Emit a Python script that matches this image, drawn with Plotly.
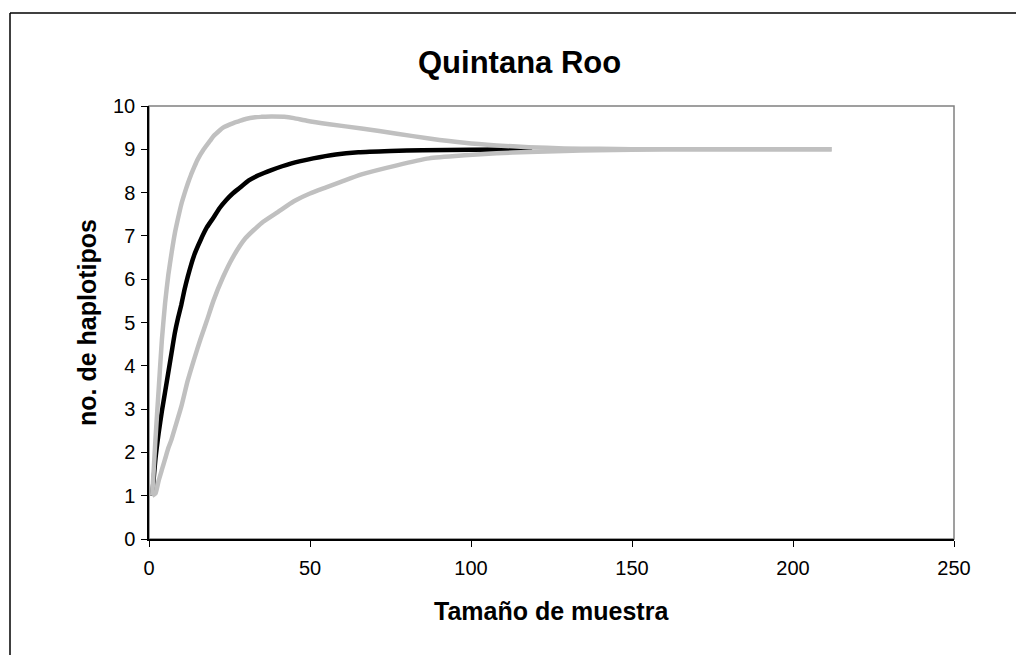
import plotly.graph_objects as go

# Mean rarefaction curve (black)
mean_x = [1, 2, 3, 4, 5, 6, 7, 8, 9, 10, 11, 12, 14, 16, 18, 20, 22, 24, 26, 28, 31, 34, 38, 44, 51, 58, 65, 75, 85, 100, 119]
mean_y = [1, 1.85, 2.45, 2.95, 3.4, 3.85, 4.3, 4.75, 5.1, 5.4, 5.75, 6.05, 6.55, 6.9, 7.2, 7.42, 7.65, 7.83, 7.98, 8.1, 8.28, 8.4, 8.52, 8.67, 8.79, 8.88, 8.93, 8.96, 8.98, 8.99, 9.0]

# Upper bound (gray)
upper_x = [1, 2, 3, 4, 5, 6, 7, 8, 9, 10, 11, 12, 13, 14, 15, 17, 19, 20, 22, 23, 26, 28, 30, 33, 35, 38, 42, 45, 49, 56, 66, 77, 87, 98, 108, 118, 129, 140, 150, 212]
upper_y = [1, 2.3, 3.45, 4.6, 5.45, 6.1, 6.6, 7.05, 7.4, 7.72, 7.97, 8.2, 8.4, 8.58, 8.75, 9.0, 9.2, 9.3, 9.44, 9.5, 9.6, 9.65, 9.7, 9.74, 9.75, 9.76, 9.75, 9.72, 9.66, 9.58, 9.48, 9.36, 9.25, 9.15, 9.09, 9.05, 9.02, 9.01, 9.0, 9.0]

# Lower bound (gray)
lower_x = [1, 2, 3, 4, 5, 6, 7, 8, 10, 12, 14, 16, 18, 20, 23, 26, 30, 35, 40, 45, 50, 55, 60, 66, 77, 87, 98, 108, 118, 129, 139, 150, 160, 212]
lower_y = [1, 1.05, 1.35, 1.6, 1.85, 2.1, 2.3, 2.55, 3.05, 3.65, 4.15, 4.62, 5.05, 5.5, 6.05, 6.5, 6.95, 7.3, 7.55, 7.8, 7.98, 8.12, 8.26, 8.42, 8.63, 8.79, 8.86, 8.91, 8.94, 8.96, 8.98, 8.99, 9.0, 9.0]

x_ticks = [0, 50, 100, 150, 200, 250]
y_ticks = [0, 1, 2, 3, 4, 5, 6, 7, 8, 9, 10]

FONT = "Liberation Sans, Arial, sans-serif"
GRAY = "#C0C0C0"

fig = go.Figure()
fig.add_trace(go.Scatter(x=mean_x, y=mean_y, mode="lines",
                         line=dict(color="black", width=4.5, shape="spline", smoothing=0.5),
                         showlegend=False))
fig.add_trace(go.Scatter(x=upper_x, y=upper_y, mode="lines",
                         line=dict(color=GRAY, width=4.5, shape="spline", smoothing=0.5),
                         showlegend=False))
fig.add_trace(go.Scatter(x=lower_x, y=lower_y, mode="lines",
                         line=dict(color=GRAY, width=4.5, shape="spline", smoothing=0.5),
                         showlegend=False))

L, R, T, B = 149, 954, 106, 539
W, H = 1016, 655

def px2paper_x(px):
    return (px - L) / (R - L)

def px2paper_y(py):
    return (B - py) / (B - T)

shapes = [
    dict(type="rect", xref="paper", yref="paper", x0=0, y0=0, x1=1, y1=1,
         line=dict(color="#808080", width=1.5), layer="below"),
    dict(type="line", xref="paper", yref="paper",
         x0=px2paper_x(10), y0=px2paper_y(13), x1=px2paper_x(1030), y1=px2paper_y(13),
         line=dict(color="black", width=1.5)),
    dict(type="line", xref="paper", yref="paper",
         x0=px2paper_x(10), y0=px2paper_y(13), x1=px2paper_x(10), y1=px2paper_y(670),
         line=dict(color="black", width=1.5)),
]

fig.update_layout(
    width=W, height=H, autosize=False,
    margin=dict(l=L, r=W - R, t=T, b=H - B, pad=0),
    paper_bgcolor="white", plot_bgcolor="white",
    font=dict(family=FONT, color="black", size=20),
    shapes=shapes,
    annotations=[
        dict(text="<b>Quintana Roo</b>", xref="paper", yref="paper",
             x=px2paper_x(519), y=px2paper_y(63), showarrow=False,
             xanchor="center", yanchor="middle", font=dict(size=31, family=FONT)),
        dict(text="<b>Tamaño de muestra</b>", xref="paper", yref="paper",
             x=px2paper_x(551), y=px2paper_y(611), showarrow=False,
             xanchor="center", yanchor="middle", font=dict(size=25, family=FONT)),
        dict(text="<b>no. de haplotipos</b>", xref="paper", yref="paper",
             x=px2paper_x(87), y=px2paper_y(323), showarrow=False, textangle=-90,
             xanchor="center", yanchor="middle", font=dict(size=25, family=FONT)),
    ],
)

fig.update_xaxes(range=[0, 250], tickvals=x_ticks, showgrid=False, zeroline=False,
                 showline=True, linecolor="black", linewidth=1.5,
                 ticks="outside", ticklen=6, tickcolor="black", tickwidth=1,
                 ticklabelstandoff=4, tickfont=dict(size=20))
fig.update_yaxes(range=[0, 10], tickvals=y_ticks, showgrid=False, zeroline=False,
                 showline=True, linecolor="black", linewidth=1.5,
                 ticks="outside", ticklen=6, tickcolor="black", tickwidth=1,
                 ticklabelstandoff=2, tickfont=dict(size=20))

fig.write_html("out.html")
